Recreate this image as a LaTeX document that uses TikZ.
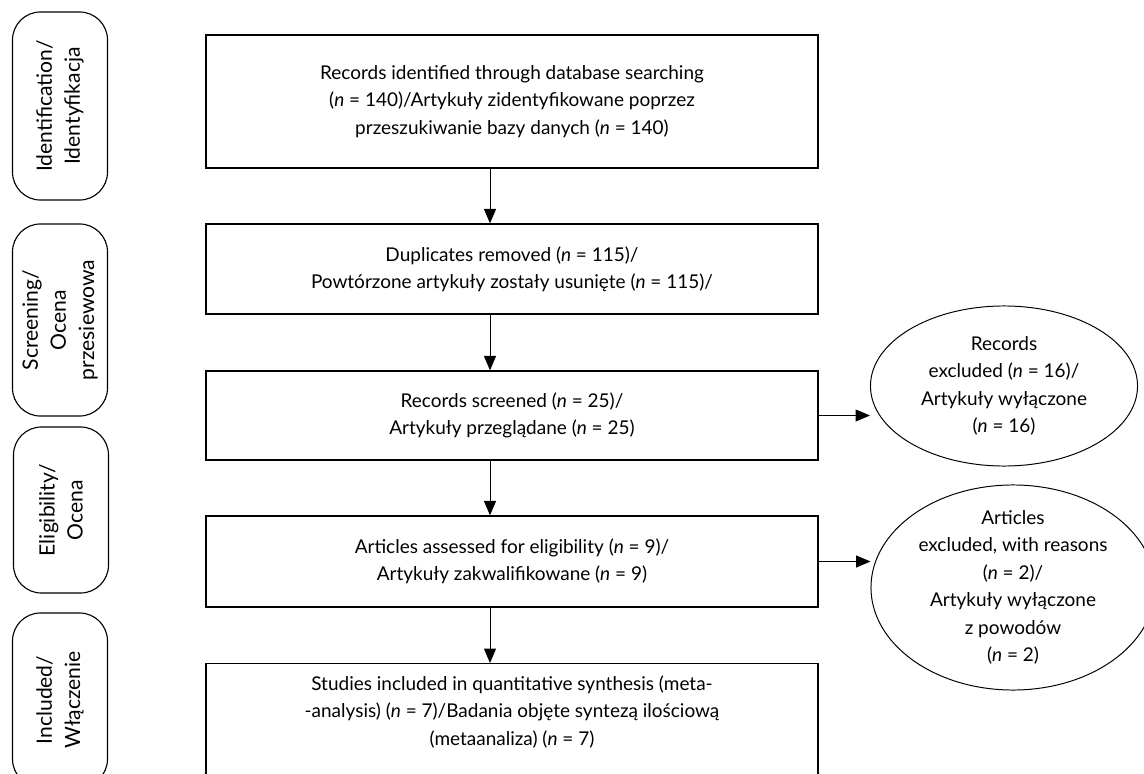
\documentclass[tikz,border=0pt]{standalone}
\usepackage{fontspec}
\setmainfont{Lato}
\usetikzlibrary{shapes.geometric,arrows.meta}

\begin{document}
\begin{tikzpicture}
			[x=0.025cm, y=-0.025cm, font=\fontsize{13.5}{19.5}\selectfont,
			box/.style ={rectangle, draw, line width=0.9pt, align=center, minimum width=15.3cm},
			stage/.style ={rectangle, draw, line width=0.8pt, rounded corners=0.7cm, rotate=90, align=center, minimum height=2.375cm, font=\fontsize{15}{20}\selectfont},
			excl/.style ={ellipse, draw, line width=0.7pt, align=center, inner sep=-0.4cm},
			arr/.style ={-{Triangle[length=0.36cm, width=0.3cm]}, line width=0.7pt}]
			\clip (0,0) rectangle (1144,774);
			\node[stage, minimum width=4.7cm] (s1) at (60,106) {Identification/\\Identyfikacja};
			\node[stage, minimum width=4.8cm] (s2) at (60,320) {Screening/\\Ocena\\przesiewowa};
			\node[stage, minimum width=4.15cm] (s3) at (61,510) {Eligibility/\\Ocena};
			\node[stage, minimum width=4.35cm] (s4) at (60,700) {Included/\\Włączenie};
			\node[box, minimum height=3.325cm] (r1) at (512,101.5) {Records identified through database searching\\(\textit{n} = 140)/Artykuły zidentyfikowane poprzez\\przeszukiwanie bazy danych (\textit{n} = 140)};
			\node[box, minimum height=2.25cm] (r2) at (512,269) {Duplicates removed (\textit{n} = 115)/\\Powtórzone artykuły zostały usunięte (\textit{n} = 115)/};
			\node[box, minimum height=2.225cm] (r3) at (512,415.5) {Records screened (\textit{n} = 25)/\\Artykuły przeglądane (\textit{n} = 25)};
			\node[box, minimum height=2.275cm] (r4) at (512,561.5) {Articles assessed for eligibility (\textit{n} = 9)/\\Artykuły zakwalifikowane (\textit{n} = 9)};
			\node[box, anchor=north, inner ysep=0.3cm, text depth=3cm] (r5) at (512,663) {Studies included in quantitative synthesis (meta-\\-analysis) (\textit{n} = 7)/Badania objęte syntezą ilościową\\(metaanaliza) (\textit{n} = 7)};
			\node[excl, minimum width=6.675cm, minimum height=4cm] (e1) at (1004,386) {Records\\excluded (\textit{n} = 16)/\\Artykuły wyłączone\\(\textit{n} = 16)};
			\node[excl, minimum width=7.1cm, minimum height=5.125cm] (e2) at (1013,587.5) {Articles\\excluded, with reasons\\(\textit{n} = 2)/\\Artykuły wyłączone\\z powodów\\(\textit{n} = 2)};
			\draw[arr] ([xshift=-0.55cm]r1.south) -- ([xshift=-0.55cm]r2.north);
			\draw[arr] ([xshift=-0.55cm]r2.south) -- ([xshift=-0.55cm]r3.north);
			\draw[arr] ([xshift=-0.55cm]r3.south) -- ([xshift=-0.55cm]r4.north);
			\draw[arr] ([xshift=-0.55cm]r4.south) -- ([xshift=-0.55cm]r5.north);
			\draw[arr] (r3.east) -- (r3.east -| e1.west);
			\draw[arr] (r4.east) -- (r4.east -| e2.west);
		\end{tikzpicture}
\end{document}
